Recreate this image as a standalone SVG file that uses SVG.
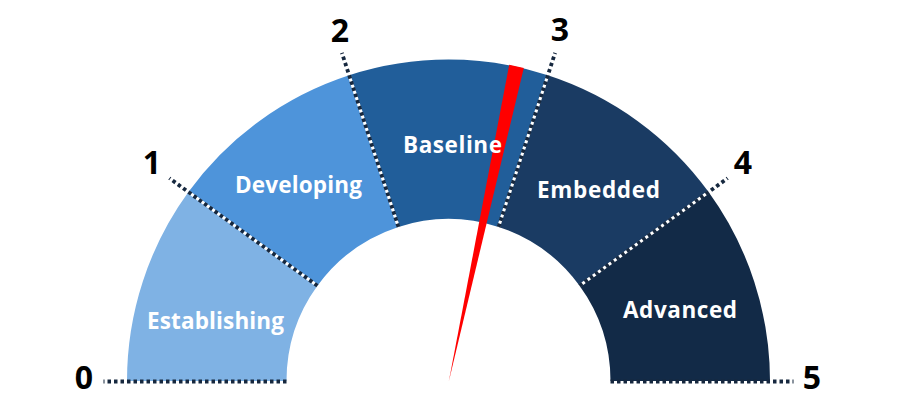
<svg xmlns="http://www.w3.org/2000/svg" width="900" height="402" viewBox="0 0 900 402">
<style>
.seg-label{font-family:"Open Sans","Liberation Sans",sans-serif;font-weight:700;font-size:22.5px;fill:#ffffff;text-anchor:middle}
.num{font-family:"Open Sans","Liberation Sans",sans-serif;font-weight:700;font-size:32px;fill:#000000;text-anchor:middle;dominant-baseline:central}
.sep{stroke:#ffffff;stroke-width:3;fill:none}
.dots{stroke:#16283f;stroke-width:3.8;stroke-dasharray:3.5 3;fill:none}
</style>
<rect width="900" height="402" fill="#ffffff"/>
<g id="seg-establishing">
<path d="M286.5 381 L127 381 A321.5 321.5 0 0 1 188.4 192.03 L317.44 285.78 A162 162 0 0 0 286.5 381 Z" fill="#7fb2e4"/>
<text class="seg-label" x="215.5" y="329" textLength="137">Establishing</text>
</g>
<g id="seg-developing">
<path d="M317.44 285.78 L188.4 192.03 A321.5 321.5 0 0 1 349.15 75.24 L398.44 226.93 A162 162 0 0 0 317.44 285.78 Z" fill="#4e94da"/>
<text class="seg-label" x="298.5" y="193" textLength="127">Developing</text>
</g>
<g id="seg-embedded">
<path d="M498.56 226.93 L547.85 75.24 A321.5 321.5 0 0 1 708.6 192.03 L579.56 285.78 A162 162 0 0 0 498.56 226.93 Z" fill="#1a3b63"/>
<text class="seg-label" x="598.5" y="198" textLength="123">Embedded</text>
</g>
<g id="seg-advanced">
<path d="M579.56 285.78 L708.6 192.03 A321.5 321.5 0 0 1 770 381 L610.5 381 A162 162 0 0 0 579.56 285.78 Z" fill="#122a47"/>
<text class="seg-label" x="680" y="318" textLength="114">Advanced</text>
</g>
<g id="seg-baseline">
<path d="M398.44 226.93 L349.15 75.24 A321.5 321.5 0 0 1 547.85 75.24 L498.56 226.93 A162 162 0 0 0 398.44 226.93 Z" fill="#215e9a"/>
<g id="needle">
<polygon points="448.8,381.5 509.2,64.7 523.8,67.9" fill="#ff0000"/>
</g>
<text class="seg-label" x="452.5" y="153" textLength="99">Baseline</text>
</g>
<g id="connectors">
<line class="sep" x1="317.44" y1="285.78" x2="188.4" y2="192.03"/>
<line class="sep" x1="398.44" y1="226.93" x2="349.15" y2="75.24"/>
<line class="sep" x1="498.56" y1="226.93" x2="547.85" y2="75.24"/>
<line class="sep" x1="579.56" y1="285.78" x2="708.6" y2="192.03"/>
<line class="dots" x1="286.5" y1="381.5" x2="103.5" y2="381.5"/>
<line class="dots" x1="317.44" y1="285.78" x2="169.39" y2="178.21"/>
<line class="dots" x1="398.44" y1="226.93" x2="341.89" y2="52.89"/>
<line class="dots" x1="498.56" y1="226.93" x2="555.11" y2="52.89"/>
<line class="dots" x1="579.56" y1="285.78" x2="727.61" y2="178.21"/>
<line class="dots" x1="610.5" y1="381.5" x2="793.5" y2="381.5"/>
</g>
<g id="scale-labels">
<text class="num" x="84" y="376">0</text>
<text class="num" x="152" y="161">1</text>
<text class="num" x="340" y="29">2</text>
<text class="num" x="560" y="28">3</text>
<text class="num" x="743" y="161">4</text>
<text class="num" x="812" y="376">5</text>
</g>
</svg>
